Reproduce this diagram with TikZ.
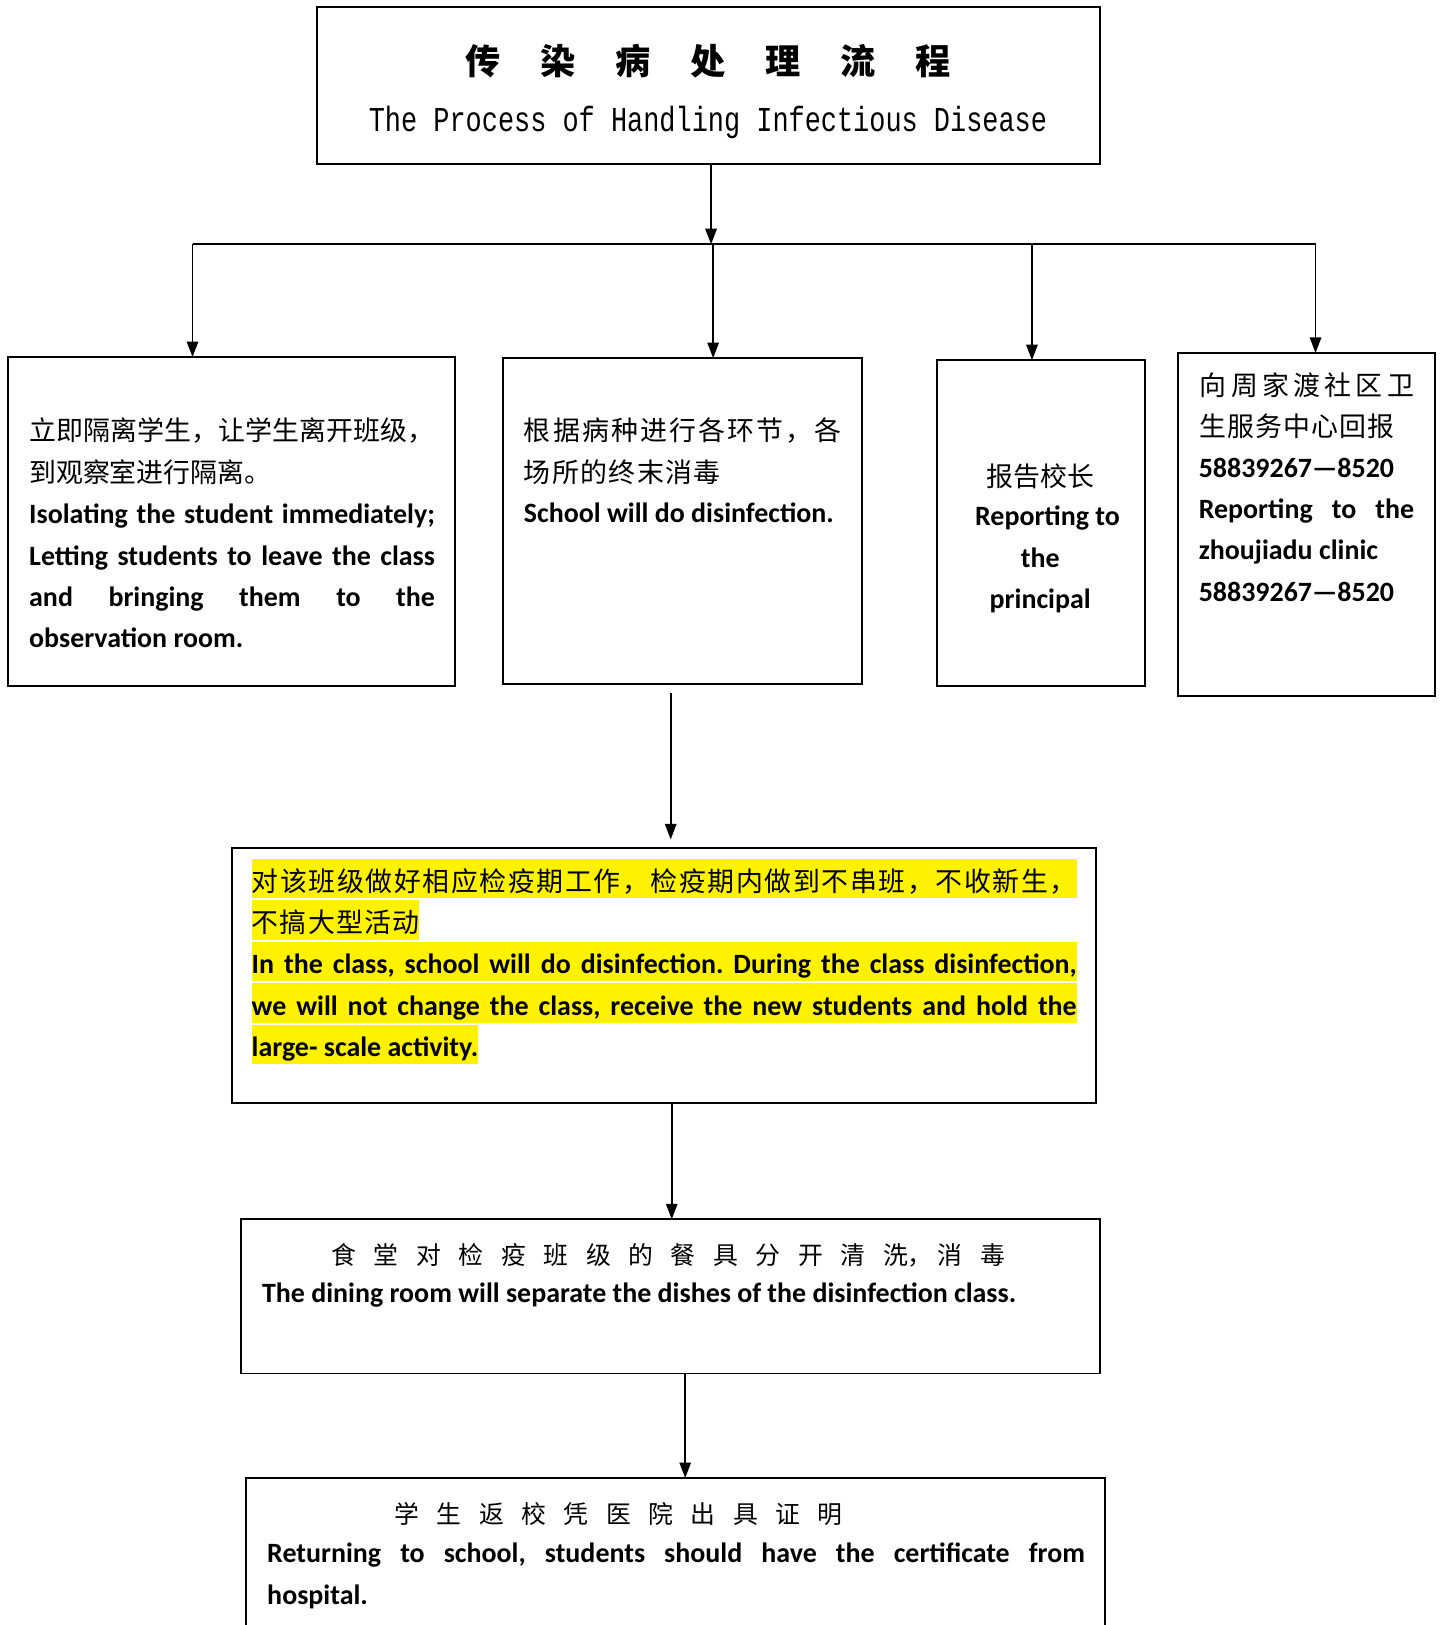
\documentclass[tikz,border=0pt]{standalone}
\usepackage{graphicx}
\usepackage{fontspec}
\setmainfont{Carlito}
\newfontfamily\cjk{Noto Sans CJK SC}
\newfontfamily\mono{Liberation Mono}
\usetikzlibrary{arrows.meta}
\frenchspacing
\def\sprdloop#1{\ifx#1\relax\else#1\expandafter\sprdnext\fi}
\def\sprdnext#1{\ifx#1\relax\else\hfill#1\expandafter\sprdnext\fi}
\newcommand\spread[2]{\makebox[#1][s]{\sprdloop#2\relax}}
\begin{document}
\begin{tikzpicture}[x=1pt,y=-1pt,
  box/.style={draw, line width=1.9pt, inner sep=0pt, outer sep=0pt, rectangle},
  arr/.style={line width=1.7pt, -{Triangle[length=15pt,width=11pt]}},
  ln/.style={line width=1.7pt},
  lt/.style={inner sep=0pt, anchor=base west, font=\bfseries\fontsize{27}{30}\selectfont},
  ct/.style={inner sep=0pt, anchor=base west, font=\cjk\fontsize{26}{30}\selectfont},
  cts/.style={inner sep=0pt, anchor=base west, font=\cjk\fontsize{24}{30}\selectfont},
  hl/.style={fill=yellow, text height=31pt, text depth=7pt}]
\useasboundingbox (0,0) rectangle (1392,1570);
\clip (0,0) rectangle (1392,1570);
% boxes
\node[box, minimum width=757pt, minimum height=151pt] (T) at (684.5,82.5) {};
\node[box, minimum width=432pt, minimum height=318pt] (A) at (224,504) {};
\node[box, minimum width=347pt, minimum height=315pt] (B) at (659.5,503.5) {};
\node[box, minimum width=201pt, minimum height=315pt] (C) at (1005.5,505.5) {};
\node[box, minimum width=248pt, minimum height=331pt] (D) at (1262,506.5) {};
\node[box, minimum width=835pt, minimum height=247pt] (E) at (641.5,942.5) {};
\node[box, minimum width=830pt, minimum height=149pt] (F) at (648,1252.5) {};
\node[box, minimum width=830pt, minimum height=192pt] (G) at (653,1524) {};
% title
\node[inner sep=0pt, anchor=base west, font=\cjk\bfseries\fontsize{34}{40}\selectfont] (t1) at (450,72) {\spread{468pt}{传染病处理流程}};
\node[inner sep=0pt, anchor=base, font=\mono\fontsize{26}{30}\selectfont] (t2) at (684,127) {\scalebox{1}[1.3]{The Process of Handling Infectious Disease}};
% box A
\node[ct] (a1) at (28,426) {\spread{392pt}{立即隔离学生，让学生离开班级，}};
\node[ct] (a2) at (28,466) {到观察室进行隔离。};
\node[lt] (a3) at (28,506) {\makebox[392pt][s]{Isolating the student immediately;}};
\node[lt] (a4) at (28,546) {\makebox[392pt][s]{Letting students to leave the class}};
\node[lt] (a5) at (28,586) {\makebox[392pt][s]{and bringing them to the}};
\node[lt] (a6) at (28,626) {observation room.};
% box B
\node[ct] (b1) at (506,426) {\spread{307pt}{根据病种进行各环节，各}};
\node[ct] (b2) at (506,466) {\spread{190pt}{场所的终末消毒}};
\node[lt] (b3) at (506,505) {School will do disinfection.};
% box C
\node[ct, anchor=base] (c1) at (1005,470) {报告校长};
\node[lt, anchor=base] (c2) at (1012,508) {Reporting to};
\node[lt, anchor=base] (c3) at (1005,548) {the};
\node[lt, anchor=base] (c4) at (1005,588) {principal};
% box D
\node[ct] (d1) at (1159,382) {\spread{207pt}{向周家渡社区卫}};
\node[ct] (d2) at (1159,422) {\spread{188pt}{生服务中心回报}};
\node[lt] (d3) at (1158,461) {58839267—8520};
\node[lt] (d4) at (1158,501) {\makebox[208pt][s]{Reporting to the}};
\node[lt] (d5) at (1158,541) {zhoujiadu clinic};
\node[lt] (d6) at (1158,581) {58839267—8520};
% box E
\node[ct, hl] (e1) at (243,861) {\spread{797pt}{对该班级做好相应检疫期工作，检疫期内做到不串班，不收新生，}};
\node[ct, hl] (e2) at (243,901) {\spread{162pt}{不搞大型活动}};
\node[lt, hl] (e3) at (243,941) {\makebox[797pt][s]{In the class, school will do disinfection. During the class disinfection,}};
\node[lt, hl] (e4) at (243,981) {\makebox[797pt][s]{we will not change the class, receive the new students and hold the}};
\node[lt, hl] (e5) at (243,1021) {large- scale activity.};
% box F
\node[cts] (f1) at (320,1222) {\makebox[651pt][s]{食\hfill 堂\hfill 对\hfill 检\hfill 疫\hfill 班\hfill 级\hfill 的\hfill 餐\hfill 具\hfill 分\hfill 开\hfill 清\hfill 洗\makebox[0.5em][l]{，}\hfill 消\hfill 毒}};
\node[lt] (f2) at (253,1258) {The dining room will separate the dishes of the disinfection class.};
% box G
\node[cts] (g1) at (381,1472) {\spread{433pt}{学生返校凭医院出具证明}};
\node[lt] (g2) at (258,1510) {\makebox[790pt][s]{Returning to school, students should have the certificate from}};
\node[lt] (g3) at (258,1550) {hospital.};
% connectors
\coordinate (j) at (687,236);
\coordinate (hl) at (186,236);
\coordinate (hr) at (1271,236);
\coordinate (jb) at (689,236);
\coordinate (jc) at (997,236);
\coordinate (bs) at (648,670);
\coordinate (es) at (649,1066);
\coordinate (fs) at (662,1327);
\draw[arr] (T.south -| j) -- (j);
\draw[ln] (hl) -- (hr);
\draw[arr] (hl) -- (hl |- A.north);
\draw[arr] (jb) -- (jb |- B.north);
\draw[arr] (jc) -- (jc |- C.north);
\draw[arr] (hr) -- (hr |- D.north);
\draw[arr, shorten >=8pt] (bs) -- (bs |- E.north);
\draw[arr] (es) -- (es |- F.north);
\draw[arr] (fs) -- (fs |- G.north);
\end{tikzpicture}
\end{document}
